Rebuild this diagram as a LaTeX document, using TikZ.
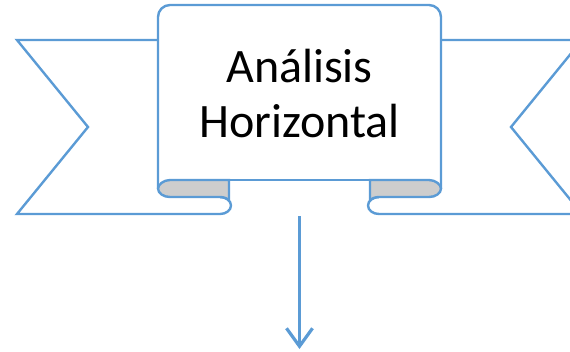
\documentclass[tikz,border=0pt]{standalone}
\usepackage{fontspec}
\setmainfont{Carlito}
\usetikzlibrary{arrows.meta}
\definecolor{rib}{HTML}{5B9BD5}
\definecolor{fold}{HTML}{CDCDCD}
\tikzset{
  ribline/.style={draw=rib, line width=2.4pt, line join=miter},
  foldfill/.style={ribline, fill=fold},
  flow/.style={draw=rib, line width=3pt, -{Straight Barb[length=18pt,width=26pt,line width=3.2pt]}},
  titletext/.style={font=\fontsize{48}{55}\selectfont, align=center, inner sep=0pt, text=black}
}
\begin{document}
\begin{tikzpicture}[x=1pt,y=-1pt]
\useasboundingbox (0,0) rectangle (570,351);
\clip (0,0) rectangle (570,351);
% left ribbon end
\draw[ribline] (158,40) -- (17,40) -- (88,127) -- (17,214) -- (220,214)
  .. controls (226.1,214) and (231,210.2) .. (231,205.5)
  .. controls (231,200.8) and (226.1,197) .. (220,197);
% right ribbon end
\draw[ribline] (441,40) -- (582,40) -- (511,127) -- (582,214) -- (379,214)
  .. controls (372.9,214) and (368,210.2) .. (368,205.5)
  .. controls (368,200.8) and (372.9,197) .. (379,197);
% folds
\draw[foldfill] (229,180) -- (170,180)
  .. controls (163.4,180) and (158,184.8) .. (158,188.5)
  .. controls (158,193.2) and (163.4,197) .. (170,197) -- (220,197)
  .. controls (224,197) and (227.5,198.5) .. (229,200.6) -- cycle;
\draw[foldfill] (370,180) -- (429,180)
  .. controls (435.6,180) and (441,184.8) .. (441,188.5)
  .. controls (441,193.2) and (435.6,197) .. (429,197) -- (379,197)
  .. controls (375,197) and (371.5,198.5) .. (370,200.6) -- cycle;
% main panel
\draw[ribline, rounded corners=12pt] (158,188.5) -- (158,5) -- (441,5) -- (441,188.5);
\draw[ribline] (229,180) -- (370,180);
% title
\node[titletext] (title) at (299.5,94) {Análisis\\Horizontal};
% arrow
\coordinate (ribbonbottom) at (299.5,216);
\coordinate (arrowend) at (299.5,349);
\draw[flow] (ribbonbottom) -- (arrowend);
\end{tikzpicture}
\end{document}
